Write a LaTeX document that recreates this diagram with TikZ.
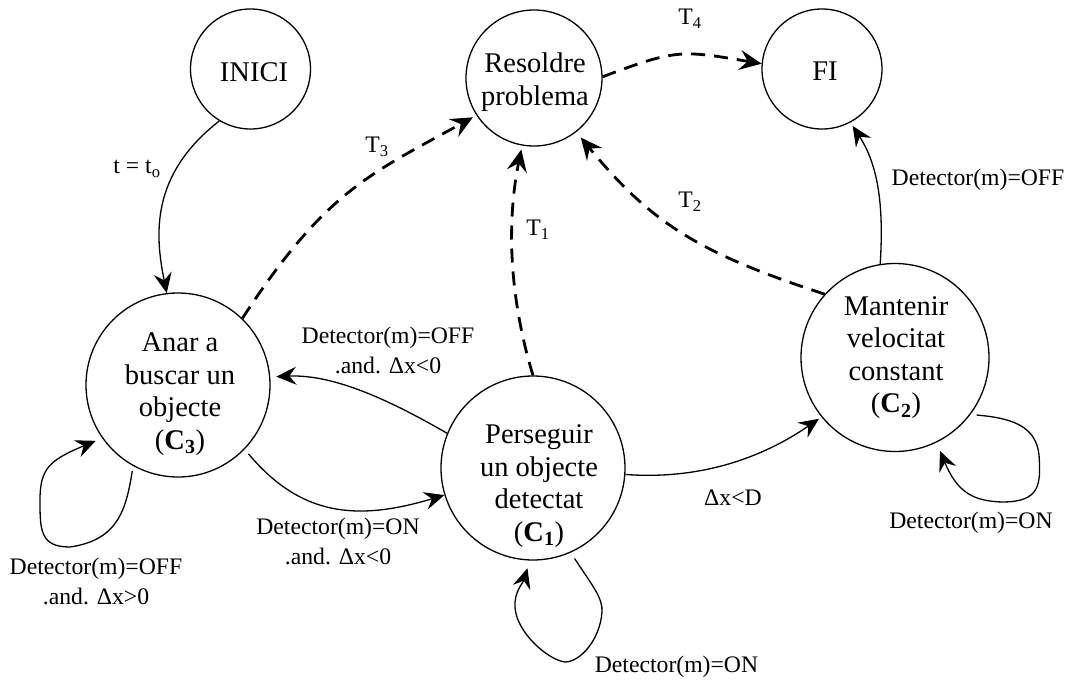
\documentclass[tikz,border=0pt]{standalone}
\usepackage{fontspec}
\setmainfont{Liberation Serif}
\usetikzlibrary{arrows.meta}
\begin{document}
\begin{tikzpicture}[x=1pt, y=-1pt,
  stcircle/.style={circle, draw, line width=1.3pt, inner sep=0pt},
  stname/.style={align=center, inner sep=0pt, font=\fontsize{28.5}{32.5}\selectfont},
  lbl/.style={align=center, inner sep=0pt, font=\fontsize{23.7}{30}\selectfont},
  trans/.style={-{Stealth[length=20pt, width=18pt, inset=7pt]}, line width=1.3pt},
  dtrans/.style={-{Stealth[length=22pt, width=20pt, inset=8pt]}, line width=2.8pt, dash pattern=on 14pt off 9pt}]
\useasboundingbox (0,0) rectangle (1072,680);

% states
\node[stcircle, minimum size=120pt] (inici) at (250.5,69) {};
\node[stname] (inicitext) at (254,72) {INICI};
\node[stcircle, minimum size=136pt] (resoldre) at (534,78) {};
\node[stname] (resoldretext) at (535,82) {Resoldre\\problema};
\node[stcircle, minimum size=120pt] (fi) at (822,69) {};
\node[stname] (fitext) at (825,71) {FI};
\node[stcircle, minimum size=184pt] (anar) at (178,385) {};
\node[stname] (anartext) at (180,394) {Anar a\\buscar un\\objecte\\(\textbf{C}\textsubscript{\textbf{3}})};
\node[stcircle, minimum size=184pt] (perseguir) at (533,468) {};
\node[stname] (perseguirtext) at (539,486) {Perseguir\\un objecte\\detectat\\(\textbf{C}\textsubscript{\textbf{1}})};
\node[stcircle, minimum size=188pt] (mantenir) at (895,357.5) {};
\node[stname] (mantenirtext) at (896,357.5) {Mantenir\\velocitat\\constant\\(\textbf{C}\textsubscript{\textbf{2}})};

% transitions towards the problem-solving state
\draw[dtrans, shorten >=4pt] (anar.46) .. controls (325,192) and (368,175) .. (resoldre.213);
\draw[dtrans, shorten >=4pt] (perseguir.90) .. controls (510,300) and (506,225) .. (resoldre.260);
\draw[dtrans, shorten >=7pt] (mantenir.138) .. controls (699,253) and (652,224) .. (resoldre.308);
\draw[dtrans] (resoldre.1) .. controls (676,49) and (681,50) .. (fi.175);

% normal transitions
\draw[trans] (inici.239) .. controls (150,175) and (155,235) .. (anar.97);
\draw[trans, shorten >=4pt] (mantenir.99) .. controls (884,205) and (878,165) .. (fi.298);
\draw[trans, shorten <=6pt] (anar.316) .. controls (300,515) and (355,522) .. (perseguir.197);
\draw[trans, shorten >=6pt] (perseguir.158) .. controls (393,402) and (335,374) .. (anar.5);
\draw[trans, shorten >=3pt] (perseguir.356) .. controls (700,480) and (762,458) .. (mantenir.219);

% self loops
\draw[trans, shorten <=5pt, shorten >=7pt] (anar.241)
  .. controls (126,510) and (118,540) .. (70,547)
  .. controls (40,547) and (40,530) .. (40,500)
  .. controls (40,468) and (50,460) .. (anar.215);
\draw[trans, shorten <=7pt, shorten >=8pt] (perseguir.294)
  .. controls (592,585) and (603,598) .. (602,612)
  .. controls (600,640) and (580,662) .. (565,662)
  .. controls (548,660) and (516,632) .. (515,607)
  .. controls (514,592) and (523,583) .. (perseguir.268);
\draw[trans, shorten <=6pt, shorten >=9pt] (mantenir.323)
  .. controls (1010,418) and (1036,425) .. (1039,455)
  .. controls (1041,485) and (1040,502) .. (1002,502)
  .. controls (975,501) and (958,494) .. (mantenir.296);

% labels
\node[lbl] (lt0) at (137,169) {t = t\textsubscript{o}};
\node[lbl] (lt3) at (377,147) {T\textsubscript{3}};
\node[lbl] (lt4) at (690,19) {T\textsubscript{4}};
\node[lbl] (lt2) at (690,202) {T\textsubscript{2}};
\node[lbl] (lt1) at (538,230) {T\textsubscript{1}};
\node[lbl] (loff) at (978,180) {Detector(m)=OFF};
\node[lbl] (loffneg) at (388,350) {Detector(m)=OFF\\.and. Δx<0};
\node[lbl] (lonneg) at (338,541.5) {Detector(m)=ON\\.and. Δx<0};
\node[lbl] (loffpos) at (96,581) {Detector(m)=OFF\\.and. Δx>0};
\node[lbl] (ldist) at (733,498) {Δx<D};
\node[lbl] (lonc2) at (971,523) {Detector(m)=ON};
\node[lbl] (lonc1) at (676.5,666.5) {Detector(m)=ON};
\end{tikzpicture}
\end{document}
